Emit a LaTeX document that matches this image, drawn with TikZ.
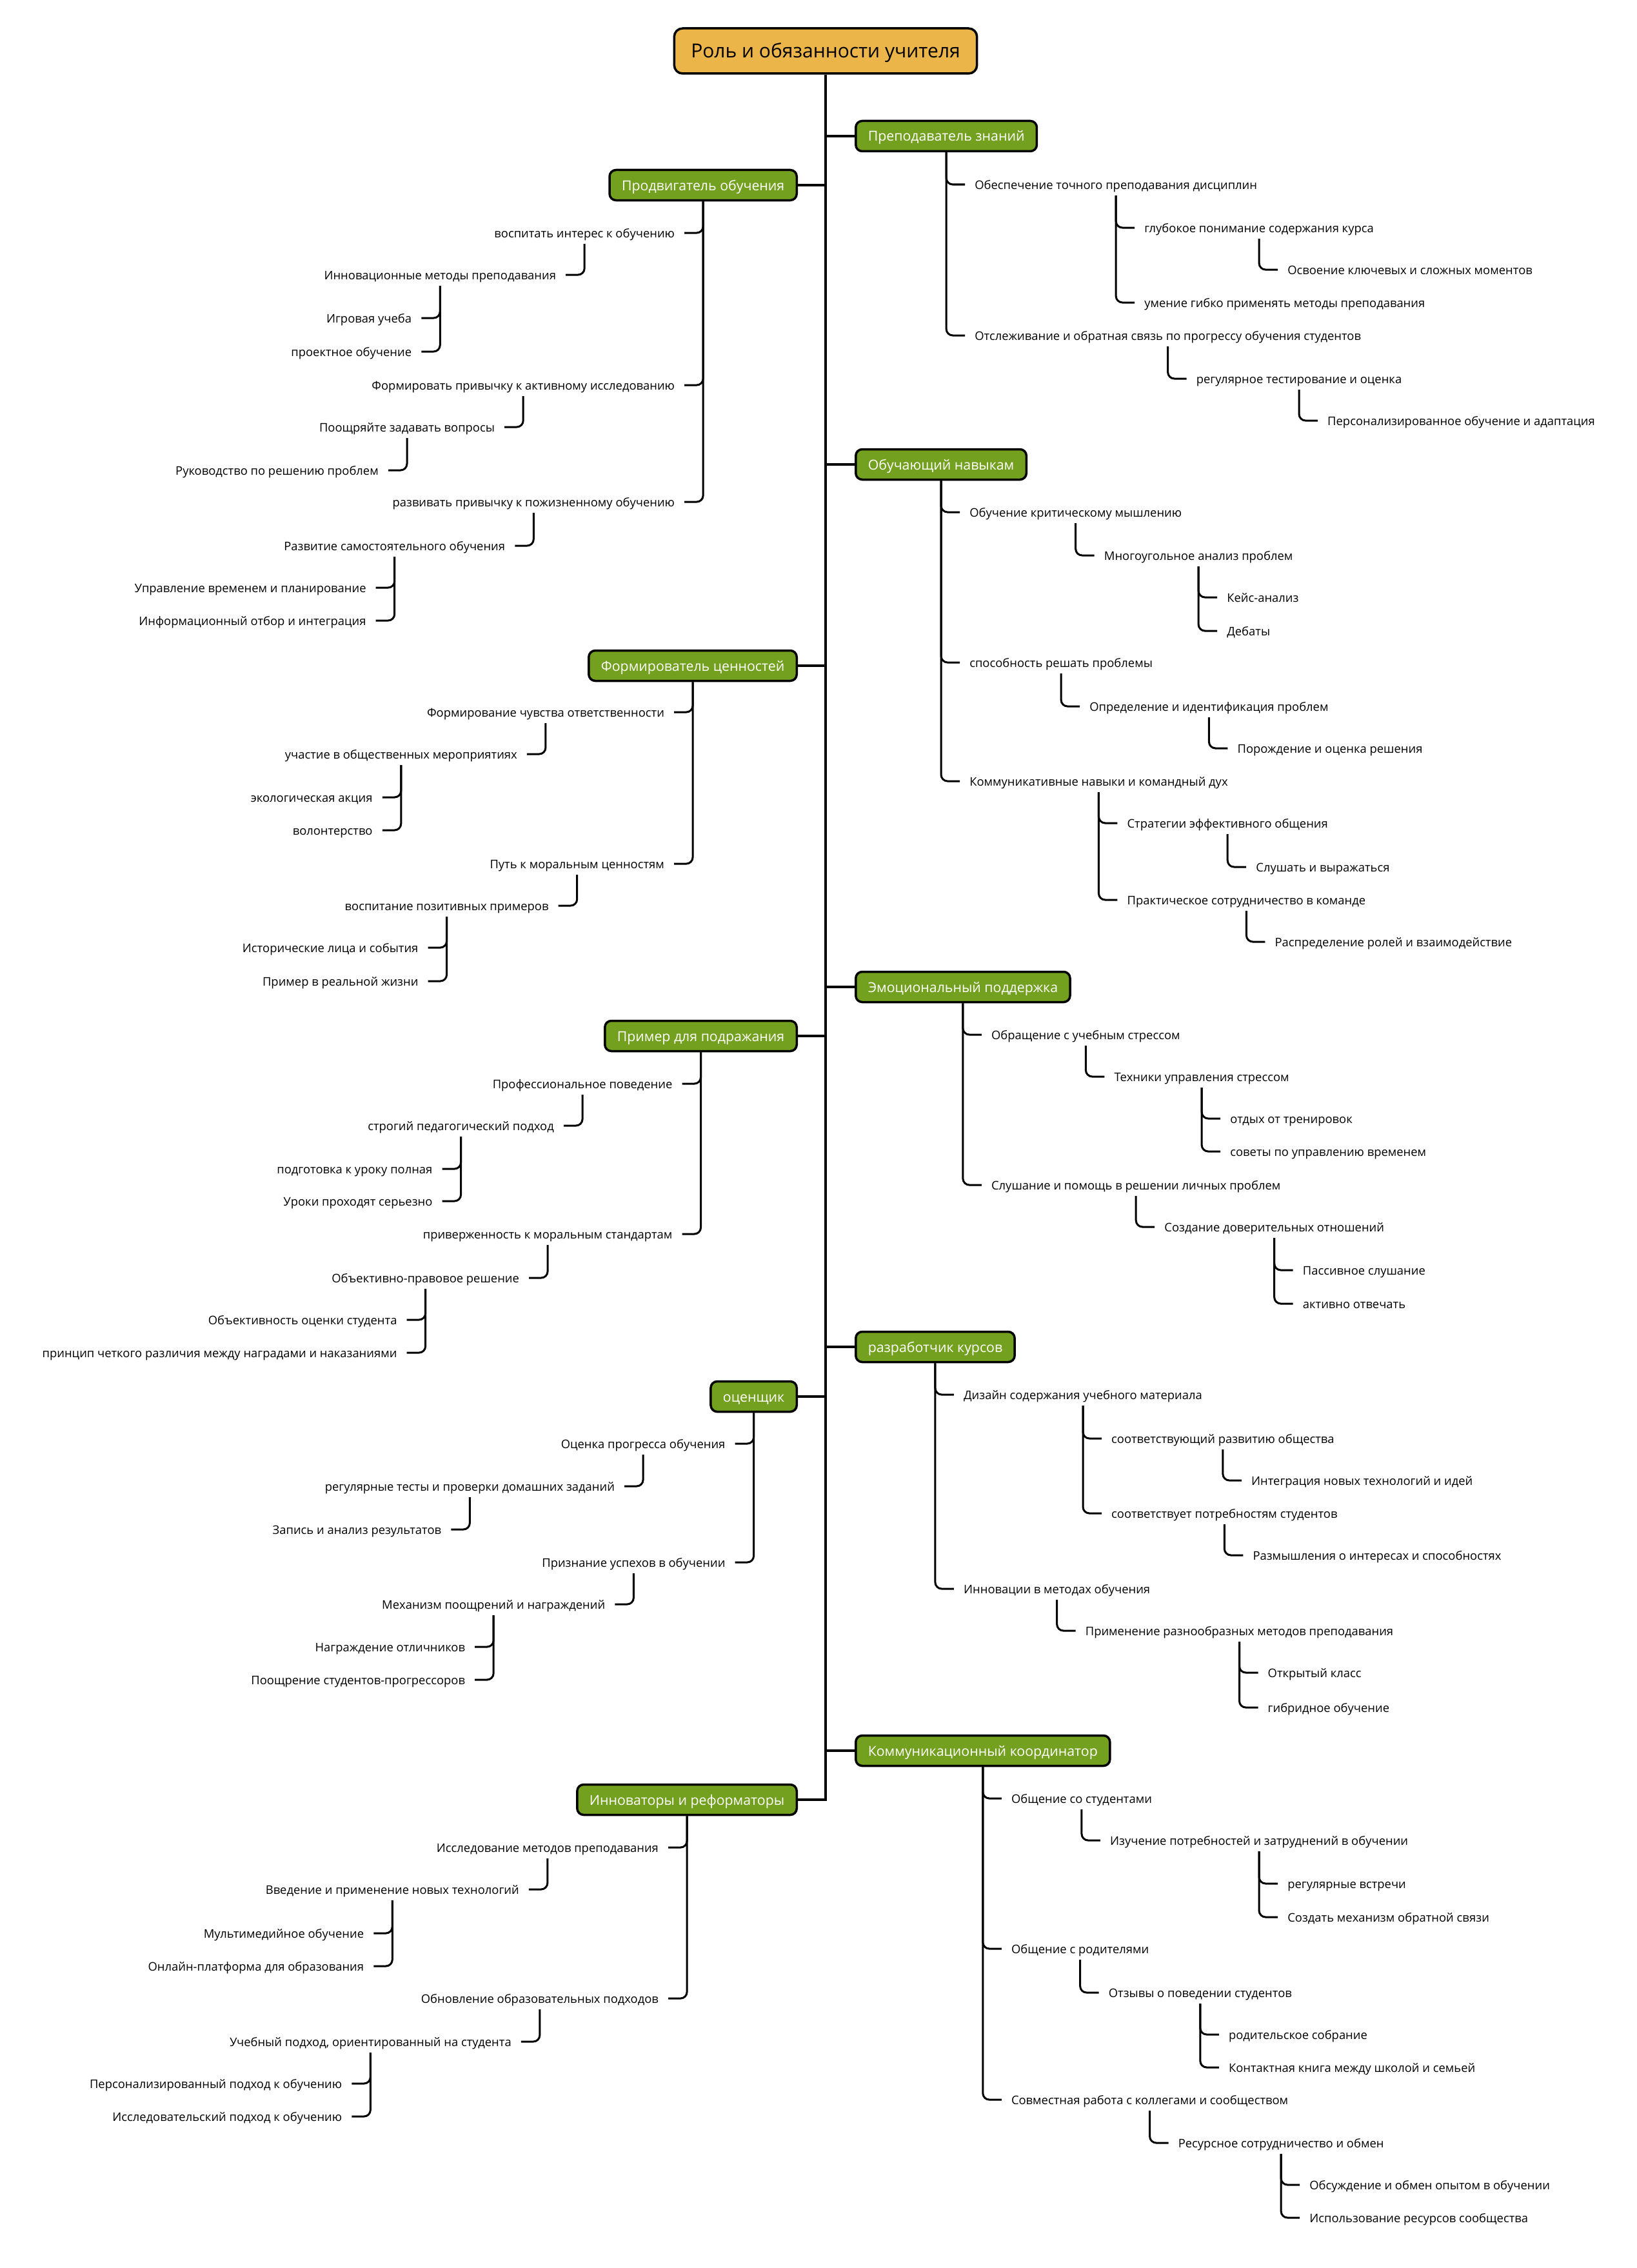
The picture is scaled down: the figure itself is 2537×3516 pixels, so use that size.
\documentclass[tikz,border=0pt]{standalone}
\usepackage{fontspec}
\setmainfont{Open Sans}
\usetikzlibrary{calc}
\definecolor{boxgreen}{HTML}{73A01F}
\definecolor{rootorange}{HTML}{EBB54A}
\tikzset{
  leaf/.style={inner sep=0pt, font=\fontsize{18.4}{22}\selectfont, text height=19pt, text depth=4pt},
  gbox/.style={draw=black, line width=3.5pt, fill=boxgreen, rounded corners=10pt, text=white,
    font=\fontsize{21.3}{26}\selectfont, inner xsep=19pt, inner ysep=0pt, minimum height=47pt,
    text height=21pt, text depth=5pt},
  rootbox/.style={draw=black, line width=3.5pt, fill=rootorange, rounded corners=13pt,
    font=\fontsize{30}{36}\selectfont, inner xsep=26pt, inner ysep=0pt, minimum height=70pt,
    text height=28pt, text depth=7pt},
  spine/.style={line width=4pt},
  conn/.style={line width=3pt, rounded corners=10pt},
}
\newcommand\childR[4]{%
  \path let \p1=(#1-o) in node[leaf,anchor=west] (#2) at (\x1+44pt,-#3pt) {#4};
  \coordinate (#2-o) at ([yshift=-17pt]#2.center);
  \draw[conn] (#1-o) |- ([xshift=-15pt]#2.west);
}
\newcommand\childL[4]{%
  \path let \p1=(#1-o) in node[leaf,anchor=east] (#2) at (\x1-44pt,-#3pt) {#4};
  \coordinate (#2-o) at ([yshift=-17pt]#2.center);
  \draw[conn] (#1-o) |- ([xshift=15pt]#2.east);
}
\newcommand\boxR[3]{%
  \node[gbox,anchor=west] (#1) at (1325,#2) {#3};
  \coordinate (#1-o) at (#1.south);
  \draw[spine] (#1.west) -- (#1.west -| root.center);
}
\newcommand\boxL[3]{%
  \node[gbox,anchor=east] (#1) at (1237,#2) {#3};
  \coordinate (#1-o) at (#1.south);
}
\begin{document}
\begin{tikzpicture}[x=1pt,y=-1pt]
\fill[white] (0,0) rectangle (2537,3516);
\useasboundingbox (0,0) rectangle (2537,3516);

\node[rootbox] (root) at (1280,79) {Роль и обязанности учителя};

% ---------- right side ----------
\boxR{r1}{211}{Преподаватель знаний}
\childR{r1}{r1a}{286}{Обеспечение точного преподавания дисциплин}
\childR{r1a}{r1a1}{353}{глубокое понимание содержания курса}
\childR{r1a1}{r1a1a}{418}{Освоение ключевых и сложных моментов}
\childR{r1a}{r1a2}{469}{умение гибко применять методы преподавания}
\childR{r1}{r1b}{520}{Отслеживание и обратная связь по прогрессу обучения студентов}
\childR{r1b}{r1b1}{587}{регулярное тестирование и оценка}
\childR{r1b1}{r1b1a}{652}{Персонализированное обучение и адаптация}

\boxR{r2}{720}{Обучающий навыкам}
\childR{r2}{r2a}{794}{Обучение критическому мышлению}
\childR{r2a}{r2a1}{861}{Многоугольное анализ проблем}
\childR{r2a1}{r2a1a}{926}{Кейс-анализ}
\childR{r2a1}{r2a1b}{978}{Дебаты}
\childR{r2}{r2b}{1027}{способность решать проблемы}
\childR{r2b}{r2b1}{1095}{Определение и идентификация проблем}
\childR{r2b1}{r2b1a}{1160}{Порождение и оценка решения}
\childR{r2}{r2c}{1211}{Коммуникативные навыки и командный дух}
\childR{r2c}{r2c1}{1276}{Стратегии эффективного общения}
\childR{r2c1}{r2c1a}{1344}{Слушать и выражаться}
\childR{r2c}{r2c2}{1395}{Практическое сотрудничество в команде}
\childR{r2c2}{r2c2a}{1460}{Распределение ролей и взаимодействие}

\boxR{r3}{1530}{Эмоциональный поддержка}
\childR{r3}{r3a}{1604}{Обращение с учебным стрессом}
\childR{r3a}{r3a1}{1669}{Техники управления стрессом}
\childR{r3a1}{r3a1a}{1734}{отдых от тренировок}
\childR{r3a1}{r3a1b}{1785}{советы по управлению временем}
\childR{r3}{r3b}{1837}{Слушание и помощь в решении личных проблем}
\childR{r3b}{r3b1}{1902}{Создание доверительных отношений}
\childR{r3b1}{r3b1a}{1969}{Пассивное слушание}
\childR{r3b1}{r3b1b}{2021}{активно отвечать}

\boxR{r4}{2088}{разработчик курсов}
\childR{r4}{r4a}{2162}{Дизайн содержания учебного материала}
\childR{r4a}{r4a1}{2230}{соответствующий развитию общества}
\childR{r4a1}{r4a1a}{2295}{Интеграция новых технологий и идей}
\childR{r4a}{r4a2}{2346}{соответствует потребностям студентов}
\childR{r4a2}{r4a2a}{2411}{Размышления о интересах и способностях}
\childR{r4}{r4b}{2463}{Инновации в методах обучения}
\childR{r4b}{r4b1}{2528}{Применение разнообразных методов преподавания}
\childR{r4b1}{r4b1a}{2593}{Открытый класс}
\childR{r4b1}{r4b1b}{2647}{гибридное обучение}

\boxR{r5}{2714}{Коммуникационный координатор}
\childR{r5}{r5a}{2788}{Общение со студентами}
\childR{r5a}{r5a1}{2853}{Изучение потребностей и затруднений в обучении}
\childR{r5a1}{r5a1a}{2920}{регулярные встречи}
\childR{r5a1}{r5a1b}{2972}{Создать механизм обратной связи}
\childR{r5}{r5b}{3021}{Общение с родителями}
\childR{r5b}{r5b1}{3089}{Отзывы о поведении студентов}
\childR{r5b1}{r5b1a}{3154}{родительское собрание}
\childR{r5b1}{r5b1b}{3205}{Контактная книга между школой и семьей}
\childR{r5}{r5c}{3255}{Совместная работа с коллегами и сообществом}
\childR{r5c}{r5c1}{3322}{Ресурсное сотрудничество и обмен}
\childR{r5c1}{r5c1a}{3387}{Обсуждение и обмен опытом в обучении}
\childR{r5c1}{r5c1b}{3438}{Использование ресурсов сообщества}

% ---------- left side ----------
\boxL{l1}{287}{Продвигатель обучения}
\childL{l1}{l1a}{361}{воспитать интерес к обучению}
\childL{l1a}{l1a1}{426}{Инновационные методы преподавания}
\childL{l1a1}{l1a1a}{493}{Игровая учеба}
\childL{l1a1}{l1a1b}{545}{проектное обучение}
\childL{l1}{l1b}{597}{Формировать привычку к активному исследованию}
\childL{l1b}{l1b1}{662}{Поощряйте задавать вопросы}
\childL{l1b1}{l1b1a}{729}{Руководство по решению проблем}
\childL{l1}{l1c}{778}{развивать привычку к пожизненному обучению}
\childL{l1c}{l1c1}{846}{Развитие самостоятельного обучения}
\childL{l1c1}{l1c1a}{911}{Управление временем и планирование}
\childL{l1c1}{l1c1b}{962}{Информационный отбор и интеграция}

\boxL{l2}{1032}{Формирователь ценностей}
\childL{l2}{l2a}{1104}{Формирование чувства ответственности}
\childL{l2a}{l2a1}{1169}{участие в общественных мероприятиях}
\childL{l2a1}{l2a1a}{1236}{экологическая акция}
\childL{l2a1}{l2a1b}{1287}{волонтерство}
\childL{l2}{l2b}{1339}{Путь к моральным ценностям}
\childL{l2b}{l2b1}{1404}{воспитание позитивных примеров}
\childL{l2b1}{l2b1a}{1469}{Исторические лица и события}
\childL{l2b1}{l2b1b}{1521}{Пример в реальной жизни}

\boxL{l3}{1606}{Пример для подражания}
\childL{l3}{l3a}{1680}{Профессиональное поведение}
\childL{l3a}{l3a1}{1745}{строгий педагогический подход}
\childL{l3a1}{l3a1a}{1812}{подготовка к уроку полная}
\childL{l3a1}{l3a1b}{1862}{Уроки проходят серьезно}
\childL{l3}{l3b}{1913}{приверженность к моральным стандартам}
\childL{l3b}{l3b1}{1981}{Объективно-правовое решение}
\childL{l3b1}{l3b1a}{2046}{Объективность оценки студента}
\childL{l3b1}{l3b1b}{2097}{принцип четкого различия между наградами и наказаниями}

\boxL{l4}{2165}{оценщик}
\childL{l4}{l4a}{2238}{Оценка прогресса обучения}
\childL{l4a}{l4a1}{2304}{регулярные тесты и проверки домашних заданий}
\childL{l4a1}{l4a1a}{2371}{Запись и анализ результатов}
\childL{l4}{l4b}{2422}{Признание успехов в обучении}
\childL{l4b}{l4b1}{2487}{Механизм поощрений и награждений}
\childL{l4b1}{l4b1a}{2553}{Награждение отличников}
\childL{l4b1}{l4b1b}{2604}{Поощрение студентов-прогрессоров}

\boxL{l5}{2790}{Инноваторы и реформаторы}
\childL{l5}{l5a}{2864}{Исследование методов преподавания}
\childL{l5a}{l5a1}{2929}{Введение и применение новых технологий}
\childL{l5a1}{l5a1a}{2997}{Мультимедийное обучение}
\childL{l5a1}{l5a1b}{3048}{Онлайн-платформа для образования}
\childL{l5}{l5b}{3098}{Обновление образовательных подходов}
\childL{l5b}{l5b1}{3165}{Учебный подход, ориентированный на студента}
\childL{l5b1}{l5b1a}{3230}{Персонализированный подход к обучению}
\childL{l5b1}{l5b1b}{3281}{Исследовательский подход к обучению}

% ---------- spine ----------
\draw[spine] (root.south) -- (root.center |- l5.east) -- (l5.east);
\foreach \b in {l1,l2,l3,l4}{\draw[spine] (\b.east) -- (\b.east -| root.center);}
\end{tikzpicture}
\end{document}
